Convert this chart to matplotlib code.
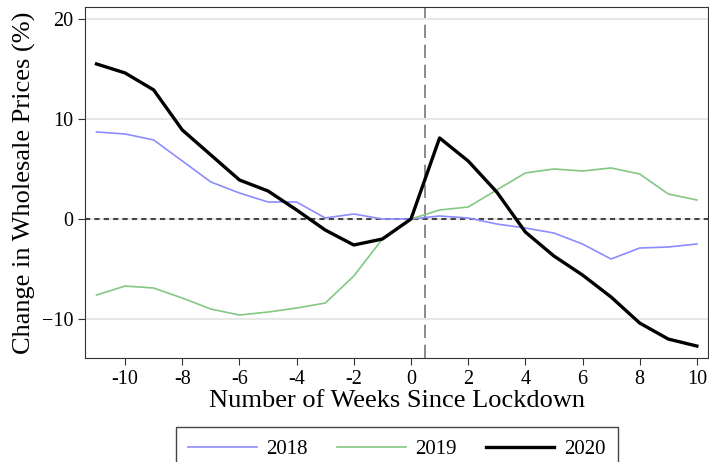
import matplotlib.pyplot as plt

weeks = list(range(-11, 11))
y2018 = [8.7, 8.5, 7.9, 5.8, 3.7, 2.6, 1.7, 1.7, 0.1, 0.5, 0.0, 0.0,
         0.3, 0.1, -0.5, -0.9, -1.4, -2.5, -4.0, -2.9, -2.8, -2.5]
y2019 = [-7.6, -6.7, -6.9, -7.9, -9.0, -9.6, -9.3, -8.9, -8.4, -5.7, -2.0, 0.0,
         0.9, 1.2, 2.9, 4.6, 5.0, 4.8, 5.1, 4.5, 2.5, 1.9]
y2020 = [15.5, 14.6, 12.9, 8.9, 6.4, 3.9, 2.8, 0.9, -1.1, -2.6, -2.0, 0.0,
         8.1, 5.8, 2.7, -1.3, -3.7, -5.6, -7.8, -10.4, -12.0, -12.7]
yticks = [-10, 0, 10, 20]
xticks = list(range(-10, 11, 2))

plt.rcParams['font.family'] = ['Liberation Serif', 'DejaVu Serif']

fig = plt.figure(figsize=(7.09, 4.62), dpi=100)
ax = fig.add_axes([0.12, 0.225, 0.879, 0.760])

for yv in yticks:
    ax.axhline(yv, color='#e3e3e3', lw=1.2, zorder=0)
ax.axhline(0, color='#444444', lw=1.5, ls=(0, (2.5, 2)), zorder=1)
ax.axvline(0.5, color='#777777', lw=1.2, ls=(0, (8, 4)), zorder=1)

ax.plot(weeks, y2018, color='#8c8cff', lw=1.2, label='2018', zorder=2)
ax.plot(weeks, y2019, color='#84c884', lw=1.2, label='2019', zorder=2)
ax.plot(weeks, y2020, color='black', lw=2.4, label='2020', zorder=3)

ax.set_xlim(-11.4, 10.4)
ax.set_ylim(-13.9, 21.2)
ax.set_xticks(xticks)
ax.set_xticklabels([str(x) for x in xticks])
ax.set_yticks(yticks)
ax.tick_params(labelsize=14.5, length=5, color='#333333')
for s in ax.spines.values():
    s.set_color('#333333')

ax.set_xlabel('Number of Weeks Since Lockdown', fontsize=19, labelpad=1)
ax.set_ylabel('Change in Wholesale Prices (%)', fontsize=19, labelpad=4)

leg = ax.legend(loc='upper center', bbox_to_anchor=(0.5, -0.197), ncol=3,
                fontsize=15, handlelength=3.3, handletextpad=0.45,
                columnspacing=1.4, fancybox=False, framealpha=1,
                borderpad=0.6, borderaxespad=0)
leg.get_frame().set_edgecolor('#444444')

fig.savefig('out.png', dpi=100)
